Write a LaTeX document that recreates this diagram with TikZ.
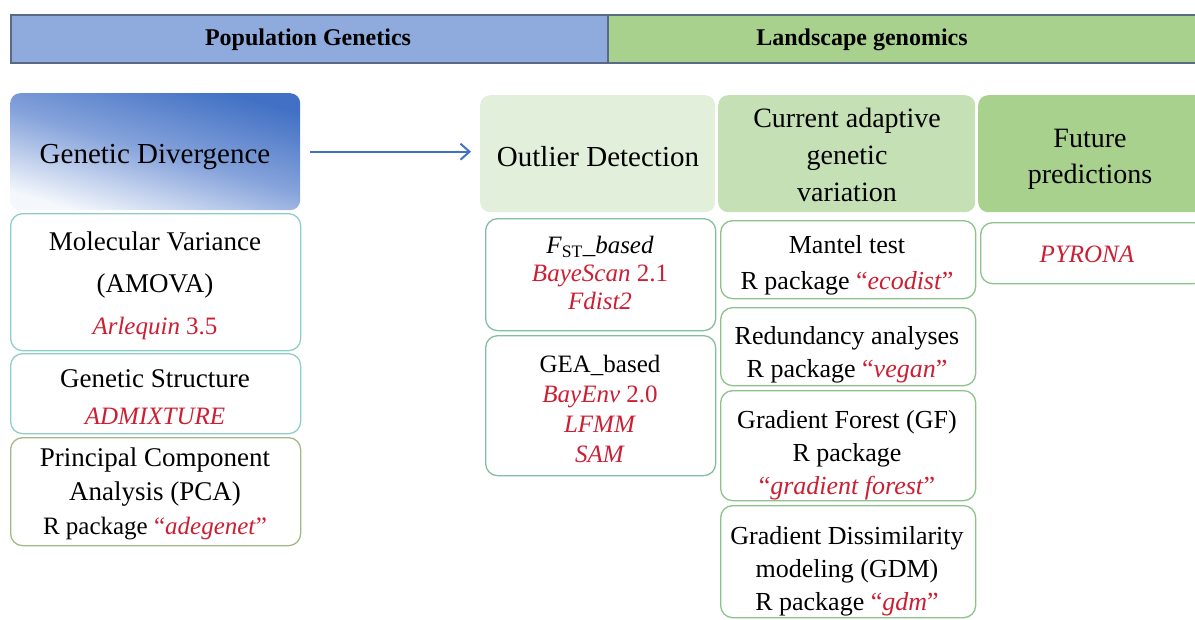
\documentclass[tikz,border=0pt]{standalone}
\usepackage{fontspec}
\setmainfont{Liberation Serif}[Ligatures=TeX]
\usetikzlibrary{arrows.meta}
\definecolor{hblue}{HTML}{8FAADC}
\definecolor{hgreen}{HTML}{A9D18E}
\definecolor{hline}{HTML}{5A6A86}
\definecolor{gdark}{HTML}{4170C4}
\definecolor{gmid}{HTML}{86A3DB}
\definecolor{glight}{HTML}{F4F7FC}
\definecolor{odfill}{HTML}{E2EFDA}
\definecolor{cafill}{HTML}{C5E0B4}
\definecolor{fpfill}{HTML}{A9D18E}
\definecolor{teal}{HTML}{8CCFC9}
\definecolor{olive}{HTML}{A3B787}
\definecolor{tgreen}{HTML}{80BFA2}
\definecolor{rgreen}{HTML}{8CC38A}
\definecolor{rtxt}{HTML}{CC1F33}
\newcommand{\rit}[1]{\textcolor{rtxt}{\textit{#1}}}
\newcommand{\rquo}[1]{\textcolor{rtxt}{“\textit{#1}”}}
\begin{document}
\begin{tikzpicture}[x=1pt,y=-1pt,
  every node/.style={font=\rmfamily},
  hdr/.style={draw=hline, line width=1.5pt, anchor=north west, inner sep=0pt},
  htxt/.style={font=\rmfamily\fontsize{24}{28}\selectfont\bfseries},
  head/.style={anchor=north west, rounded corners=10pt, inner sep=0pt},
  sub/.style={draw, line width=1.3pt, anchor=north west, rounded corners=12pt, fill=white, inner sep=0pt},
  big/.style={font=\rmfamily\fontsize{29}{37}\selectfont, align=center},
  txt/.style={align=center},
]
\useasboundingbox (0,0) rectangle (1195,619);
% header
\node[hdr, fill=hgreen, minimum width=640, minimum height=48] (lg) at (607,14) {};
\node[hdr, fill=hblue, minimum width=597, minimum height=48] (pg) at (10,14) {};
\node[htxt] (pgt) at (308,40) {Population Genetics};
\node[htxt] (lgt) at (862,40) {Landscape genomics};
% top boxes
\node[head, minimum width=290, minimum height=117, top color=gdark, bottom color=glight, middle color=gmid, shading angle=-16] (gd) at (10,93) {};
\node[big] (gdt) at (155,157) {Genetic Divergence};
\node[head, fill=odfill, minimum width=235, minimum height=117] (od) at (480,95) {};
\node[big] (odt) at (598,157) {Outlier Detection};
\node[head, fill=cafill, minimum width=257, minimum height=117] (ca) at (718,95) {};
\node[big, font=\rmfamily\fontsize{28}{37}\selectfont] (cat) at (847,155) {Current adaptive\\genetic\\variation};
\node[head, fill=fpfill, minimum width=240, minimum height=117] (fp) at (978,95) {};
\node[big, font=\rmfamily\fontsize{28}{36}\selectfont] (fpt) at (1090,159) {Future\\predictions};
\draw[gdark, line width=2pt, -{Straight Barb[length=9pt,width=16pt,line width=2pt]}, shorten <=10pt, shorten >=9pt] (gd.east) -- (gd.east -| od.west);
% left column
\node[sub, draw=teal, minimum width=290, minimum height=137] (mv) at (10,213) {};
\node[txt, font=\rmfamily\fontsize{27}{42}\selectfont] (mvt) at (155,286) {Molecular Variance\\(AMOVA)\\\fontsize{25}{30}\selectfont\rit{Arlequin} \textcolor{rtxt}{3.5}};
\node[sub, draw=teal, minimum width=290, minimum height=80] (gs) at (10,353) {};
\node[txt, font=\rmfamily\fontsize{27}{37}\selectfont] (gst) at (155,397) {Genetic Structure\\\fontsize{25}{30}\selectfont\rit{ADMIXTURE}};
\node[sub, draw=olive, minimum width=290, minimum height=108] (pca) at (10,437) {};
\node[txt, font=\rmfamily\fontsize{27}{34}\selectfont] (pcat) at (155,494) {Principal Component\\Analysis (PCA)\\\fontsize{25}{30}\selectfont R package \rquo{adegenet}};
% middle column
\node[sub, draw=tgreen, minimum width=230, minimum height=112] (fst) at (485,218) {};
\node[txt, font=\rmfamily\fontsize{25}{28}\selectfont] (fstt) at (600,273) {\textit{F}\textsubscript{ST}\textit{\_based}\\\rit{BayeScan} \textcolor{rtxt}{2.1}\\\rit{Fdist2}};
\node[sub, draw=tgreen, minimum width=230, minimum height=140] (gea) at (485,335) {};
\node[txt, font=\rmfamily\fontsize{25}{30}\selectfont] (geat) at (600,409) {GEA\_based\\\rit{BayEnv} \textcolor{rtxt}{2.0}\\\rit{LFMM}\\\rit{SAM}};
% right column
\node[sub, draw=rgreen, minimum width=255, minimum height=78] (man) at (720,220) {};
\node[txt, font=\rmfamily\fontsize{26}{36}\selectfont] (mant) at (847,265) {Mantel test\\R package \rquo{ecodist}};
\node[sub, draw=rgreen, minimum width=255, minimum height=78] (rda) at (720,307) {};
\node[txt, font=\rmfamily\fontsize{26}{33}\selectfont] (rdat) at (847,355) {Redundancy analyses\\R package \rquo{vegan}};
\node[sub, draw=rgreen, minimum width=255, minimum height=110] (gf) at (720,390) {};
\node[txt, font=\rmfamily\fontsize{26}{33}\selectfont] (gft) at (847,455) {Gradient Forest (GF)\\R package\\\rquo{gradient forest}};
\node[sub, draw=rgreen, minimum width=255, minimum height=112] (gdm) at (720,505) {};
\node[txt, font=\rmfamily\fontsize{26}{33}\selectfont] (gdmt) at (847,571) {Gradient Dissimilarity\\modeling (GDM)\\R package \rquo{gdm}};
\node[sub, draw=rgreen, minimum width=225, minimum height=61] (pyr) at (980,222) {};
\node[txt, font=\rmfamily\fontsize{25}{30}\selectfont] (pyrt) at (1087,254) {\rit{PYRONA}};
\end{tikzpicture}
\end{document}
